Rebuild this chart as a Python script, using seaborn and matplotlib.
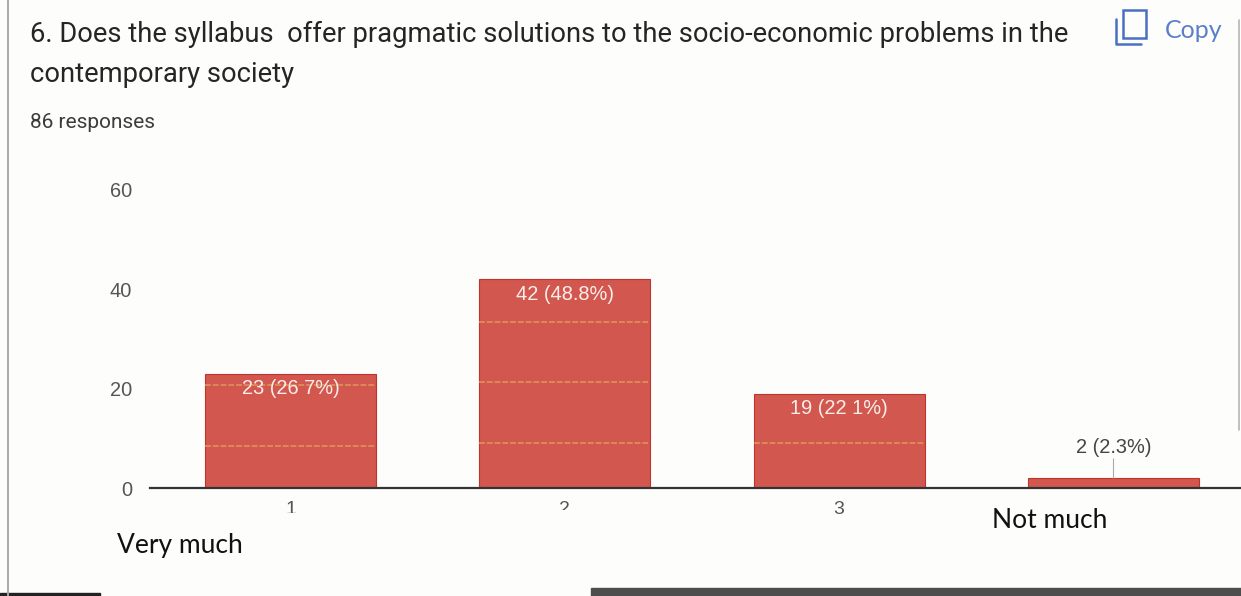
import matplotlib
matplotlib.use('Agg')
import matplotlib.pyplot as plt
from matplotlib.patches import Rectangle
from matplotlib.lines import Line2D
from matplotlib.transforms import Bbox
import pandas as pd
import seaborn as sns

W, H = 1241, 596

# chart values
categories = ['1', '2', '3', '4']
tick_labels = ['1', '2', '3', '']
counts = [23, 42, 19, 2]
bar_labels = ['23 (26 7%)', '42 (48.8%)', '19 (22 1%)', '2 (2.3%)']
y_ticks = [0, 20, 40, 60]
# faint yellow scan streaks across the bars, one list per bar
streaks = [[8.5, 20.7], [9, 21.3, 33.5], [9], []]

df = pd.DataFrame({'option': categories, 'responses': counts})

sns.set_theme(style='white')
plt.rcParams['font.family'] = ['Liberation Sans', 'DejaVu Sans']

bg = '#fdfdfc'
fig = plt.figure(figsize=(W / 100, H / 100), dpi=100, facecolor=bg)


def px_x(x):
    return x / W


def px_y(y):
    return 1 - y / H


# axes: baseline at y=488, about 5px per response, bars every 274.3px
ax = fig.add_axes([px_x(150), px_y(488), (1241 - 150) / W, (488 - 170) / H])
ax.set_facecolor('none')
sns.barplot(data=df, x='option', y='responses', ax=ax, color='#d2574f', saturation=1,
            width=0.623, edgecolor='#c0342e', linewidth=0.8)
ax.set_xlim(-0.512, 3.465)
ax.set_ylim(0, 64)
ax.set_xlabel('')
ax.set_ylabel('')
ax.set_yticks(y_ticks)
ax.set_xticks(range(len(categories)))
ax.set_xticklabels(tick_labels)
ax.tick_params(axis='y', length=0, pad=13, labelsize=14.4, labelcolor='#555555')
ax.tick_params(axis='x', length=0, pad=9, labelsize=14, labelcolor='#555555')
sns.despine(ax=ax, left=True, top=True, right=True)
ax.spines['bottom'].set_color('#333333')
ax.spines['bottom'].set_linewidth(1.6)

# tick labels 1 and 2 are partly covered in the scan
for lab, cut in zip(ax.get_xticklabels(), [513, 510, H, H]):
    lab.set_clip_box(Bbox([[0, H - cut], [W, H]]))
    lab.set_clip_on(True)

for bar, levels in zip(ax.patches, streaks):
    for level in levels:
        ax.hlines(level, bar.get_x(), bar.get_x() + bar.get_width(), color='#dfa060',
                  linewidth=1.4, linestyles=(0, (3, 1)), alpha=0.7, zorder=3)

for i, (value, text) in enumerate(zip(counts, bar_labels)):
    if value > 5:
        ax.annotate(text, (i, value), xytext=(0, -4), textcoords='offset points', ha='center',
                    va='top', fontsize=14.4, color='#fbeeea', zorder=4)
    else:
        ax.annotate(text, (i, value), xytext=(0, 15), textcoords='offset points', ha='center',
                    va='bottom', fontsize=14.4, color='#444444', zorder=4)
        ax.vlines(i, value, value + 4, color='#aaaaaa', linewidth=0.8, zorder=1)

# title block
title_color = '#252525'
fig.text(px_x(30), px_y(34), '6. Does the syllabus  offer pragmatic solutions to the socio-economic problems in the',
         fontsize=19.7, family='Roboto', color=title_color, va='center')
fig.text(px_x(30), px_y(75), 'contemporary society', fontsize=19.7, family='Roboto',
         color=title_color, va='center')
fig.text(px_x(30), px_y(122), '86 responses', fontsize=15, family='Roboto', color='#3c3c3c', va='center')

# labels added by hand on the screenshot
fig.text(px_x(117), px_y(545), 'Very much', fontsize=19, family='Lato', color='#111111', va='center')
fig.text(px_x(992), px_y(521), 'Not much', fontsize=19, family='Lato', color='#111111', va='center')

# copy button
blue = '#4a6fc4'
fig.add_artist(Rectangle((px_x(1123), px_y(38)), 23 / W, 28 / H, fill=False, edgecolor=blue,
                         linewidth=1.8, transform=fig.transFigure))
fig.add_artist(Line2D([px_x(1116), px_x(1116), px_x(1141)], [px_y(19), px_y(44), px_y(44)],
                      color=blue, linewidth=1.8))
fig.text(px_x(1165), px_y(30), 'Copy', fontsize=18, family='Lato', color='#5b7fcb', va='center')

# edges of the scanned page
fig.add_artist(Line2D([px_x(8), px_x(8)], [0, 1], color='#a8a8a8', linewidth=1.4))
fig.add_artist(Line2D([px_x(1239), px_x(1239)], [px_y(20), px_y(430)], color='#b5b5b5', linewidth=1.2))
fig.add_artist(Rectangle((px_x(591), 0), 650 / W, 8 / H, color='#4d4d4d', transform=fig.transFigure))
fig.add_artist(Rectangle((0, 0), 100 / W, 3 / H, color='#222222', transform=fig.transFigure))

fig.savefig('out.png', dpi=100, facecolor=bg)
